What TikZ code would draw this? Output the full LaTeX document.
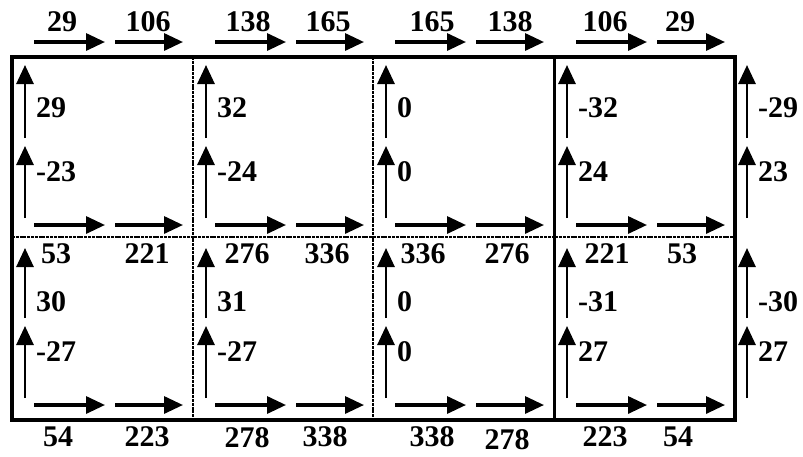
\documentclass[tikz,border=0pt]{standalone}
\usepackage{fontspec}
\setmainfont{Liberation Serif}
\usetikzlibrary{arrows.meta}
\tikzset{
  flow/.style={line width=3.2pt, -{Triangle[length=19pt,width=17pt]}},
  vflow/.style={line width=2.8pt, -{Triangle[length=19pt,width=17pt]}},
  num/.style={font=\bfseries\fontsize{30}{30}\selectfont, inner sep=0pt},
  outer/.style={line width=4.2pt},
  divider/.style={line width=2.6pt, dash pattern=on 3pt off 0.8pt},
  solidiv/.style={line width=3pt},
}
\begin{document}
\begin{tikzpicture}[x=1pt,y=-1pt]
\useasboundingbox (0,0) rectangle (803,456);
% frame
\coordinate (tl) at (12,57);
\coordinate (br) at (735,420);
\draw[outer] (tl) rectangle (br);
\coordinate (d1t) at (193,57);  \coordinate (d1b) at (193,420);
\coordinate (d2t) at (373,57);  \coordinate (d2b) at (373,420);
\coordinate (d3t) at (554,57);  \coordinate (d3b) at (554,420);
\coordinate (mhl) at (12,237);  \coordinate (mhr) at (735,237);
\draw[divider] (d1t) -- (d1b);
\draw[divider] (d2t) -- (d2b);
\draw[solidiv] (d3t) -- (d3b);
\draw[divider] (mhl) -- (mhr);
% horizontal arrows
\foreach \L [count=\c] in {12,193,373,554} {
  \foreach \y [count=\r] in {42,225,405} {
    \coordinate (h\c\r a0) at (\L+22,\y);
    \coordinate (h\c\r a1) at (\L+93,\y);
    \coordinate (h\c\r b0) at (\L+103,\y);
    \coordinate (h\c\r b1) at (\L+171,\y);
    \draw[flow] (h\c\r a0) -- (h\c\r a1);
    \draw[flow] (h\c\r b0) -- (h\c\r b1);
  }
}
% vertical arrows and their labels
\foreach \L/\ta/\tb/\tc/\td [count=\c] in {12/29/-23/30/-27, 193/32/-24/31/-27, 373/0/0/0/0, 554/-32/24/-31/27, 734/-29/23/-30/27} {
  \coordinate (v\c p0) at (\L+13,138); \coordinate (v\c p1) at (\L+13,65);
  \coordinate (v\c q0) at (\L+13,218); \coordinate (v\c q1) at (\L+13,146);
  \coordinate (v\c r0) at (\L+13,318); \coordinate (v\c r1) at (\L+13,248);
  \coordinate (v\c s0) at (\L+13,398); \coordinate (v\c s1) at (\L+13,326);
  \draw[vflow] (v\c p0) -- (v\c p1);
  \draw[vflow] (v\c q0) -- (v\c q1);
  \draw[vflow] (v\c r0) -- (v\c r1);
  \draw[vflow] (v\c s0) -- (v\c s1);
  \node[num, anchor=west] (lp\c) at (\L+24,108) {\ta};
  \node[num, anchor=west] (lq\c) at (\L+24,172) {\tb};
  \node[num, anchor=west] (lr\c) at (\L+24,302) {\tc};
  \node[num, anchor=west] (ls\c) at (\L+24,352) {\td};
}
% labels of horizontal flows
\foreach \x/\t [count=\i] in {62/29,148/106,248/138,328/165,432/165,510/138,605/106,680/29}
  \node[num] (top\i) at (\x,22) {\t};
\foreach \x/\t [count=\i] in {56/53,147/221,247/276,327/336,423/336,507/276,607/221,682/53}
  \node[num] (mid\i) at (\x,254) {\t};
\foreach \x/\y/\t [count=\i] in {58/437/54,147/437/223,247/438/278,325/437/338,432/437/338,507/440/278,605/437/223,678/437/54}
  \node[num] (bot\i) at (\x,\y) {\t};
\end{tikzpicture}
\end{document}
